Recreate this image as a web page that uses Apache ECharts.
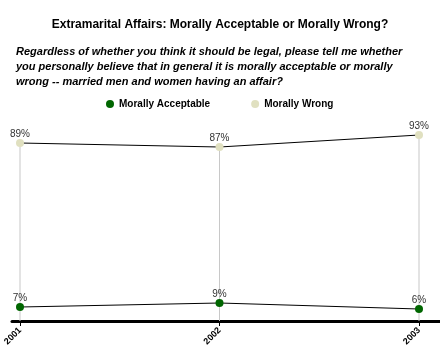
<!DOCTYPE html>
<html>
<head>
<meta charset="utf-8">
<script src="https://cdn.jsdelivr.net/npm/echarts@6/dist/echarts.min.js"></script>
<style>
html,body{margin:0;padding:0;background:#fff;}
#chart{width:440px;height:350px;}
</style>
</head>
<body>
<div id="chart"></div>
<script>
// Survey years and percentages
const years = ['2001', '2002', '2003'];
const acceptable = [7, 9, 6];
const wrong = [89, 87, 93];

const FONT = '"Liberation Sans", Arial, Helvetica, sans-serif';

const chart = echarts.init(document.getElementById('chart'));

const pctLabel = {
  show: true,
  position: 'top',
  distance: 0,
  formatter: p => p.value + '%',
  color: '#333',
  fontFamily: FONT,
  fontSize: 10
};

chart.setOption({
  animation: false,
  backgroundColor: '#fff',
  title: [{
    text: 'Extramarital Affairs: Morally Acceptable or Morally Wrong?',
    left: 'center',
    top: 14,
    textStyle: { fontFamily: FONT, fontSize: 12, fontWeight: 'bold', color: '#000' }
  }, {
    text: 'Regardless of whether you think it should be legal, please tell me whether\nyou personally believe that in general it is morally acceptable or morally\nwrong -- married men and women having an affair?',
    left: 11,
    top: 39,
    textStyle: { fontFamily: FONT, fontSize: 11, fontWeight: 'bold', fontStyle: 'italic', color: '#000', lineHeight: 15 }
  }],
  legend: {
    data: ['Morally Acceptable', 'Morally Wrong'],
    top: 94,
    left: 101,
    itemGap: 41,
    itemWidth: 8,
    itemHeight: 8,
    icon: 'circle',
    textStyle: { fontFamily: FONT, fontSize: 10, fontWeight: 'bold', color: '#000' }
  },
  grid: [
    { left: 20, right: 21, top: 121, bottom: 29 },
    { left: 12, right: 0, top: 121, bottom: 29 }
  ],
  xAxis: [{
    type: 'category',
    gridIndex: 0,
    data: years,
    boundaryGap: false,
    axisLine: { show: false },
    axisTick: { show: true, alignWithLabel: true, length: 5, lineStyle: { color: '#000', width: 1 } },
    axisLabel: { rotate: 45, margin: 8, fontFamily: FONT, fontSize: 9, fontWeight: 'bold', color: '#000' },
    splitLine: { show: false }
  }, {
    type: 'value',
    gridIndex: 1,
    min: 0,
    max: 1,
    axisLine: { show: true, onZero: false, lineStyle: { color: '#000', width: 3 } },
    axisTick: { show: false },
    axisLabel: { show: false },
    splitLine: { show: false }
  }],
  yAxis: [{
    type: 'value',
    gridIndex: 0,
    min: 0,
    max: 100,
    show: false
  }, {
    type: 'value',
    gridIndex: 1,
    min: 0,
    max: 1,
    show: false
  }],
  series: [{
    // drop lines from the "wrong" points to the baseline
    type: 'bar',
    xAxisIndex: 0,
    yAxisIndex: 0,
    data: wrong,
    barWidth: 1,
    itemStyle: { color: '#c8c8c8' },
    silent: true,
    z: 1
  }, {
    name: 'Morally Acceptable',
    type: 'line',
    xAxisIndex: 0,
    yAxisIndex: 0,
    data: acceptable,
    symbol: 'circle',
    symbolSize: 8,
    itemStyle: { color: '#006600' },
    lineStyle: { color: '#000', width: 1 },
    label: pctLabel,
    z: 3
  }, {
    name: 'Morally Wrong',
    type: 'line',
    xAxisIndex: 0,
    yAxisIndex: 0,
    data: wrong,
    symbol: 'circle',
    symbolSize: 8,
    itemStyle: { color: '#e0e0c0' },
    lineStyle: { color: '#000', width: 1 },
    label: pctLabel,
    z: 3
  }]
});
</script>
</body>
</html>
